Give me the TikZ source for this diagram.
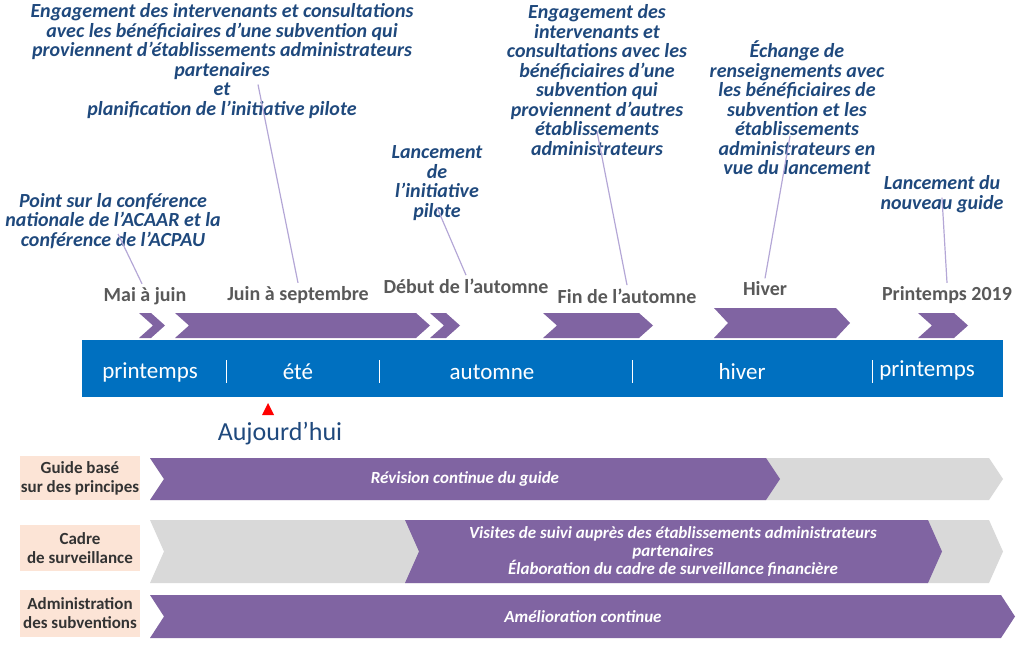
\documentclass[tikz,border=0pt]{standalone}
\usepackage{fontspec}
\setmainfont{Carlito}
\usetikzlibrary{positioning}
\definecolor{bandblue}{HTML}{0070C0}
\definecolor{lilac}{HTML}{8064A2}
\definecolor{pale}{HTML}{D9D9D9}
\definecolor{peach}{HTML}{FCE4D6}
\definecolor{navy}{HTML}{1F497D}
\definecolor{greytxt}{HTML}{595959}
\definecolor{leader}{HTML}{B4A7D6}
% chevron: colour, x1, x2, y1, y2
\newcommand\chevron[5]{%
  \fill[#1] (#2,#4) -- (#3-14,#4) -- (#3,{(#4+#5)/2}) -- (#3-14,#5) -- (#2,#5) -- (#2+14,{(#4+#5)/2}) -- cycle;}
\tikzset{
  callout/.style={align=center, text=navy, inner sep=1pt, font=\fontsize{20}{19.5}\selectfont\bfseries\itshape},
  period/.style={text=greytxt, font=\fontsize{20}{22}\selectfont\bfseries},
  season/.style={text=white, font=\fontsize{23}{26}\selectfont},
  rowlabel/.style={fill=peach, minimum width=120, minimum height=44, inner sep=1pt, align=center, font=\fontsize{17}{19}\selectfont\bfseries, text=black!80},
  rowtext/.style={text=white, align=center, font=\fontsize{17}{18}\selectfont\bfseries\itshape},
  lead/.style={leader, line width=1.2pt}
}
\begin{document}
\begin{tikzpicture}[x=1pt,y=-1pt]
\useasboundingbox (0,0) rectangle (1024,658);
% bande des saisons
\fill[bandblue] (82,340) rectangle (1003,397);
\foreach \x in {226,379,632,872}
  \draw[white, line width=0.8pt] (\x,360) -- (\x,383);
\node[season] (s1) at (150,372) {printemps};
\node[season] (s2) at (298,372) {été};
\node[season] (s3) at (492,372) {automne};
\node[season] (s4) at (742,372) {hiver};
\node[season] (s5) at (927,370) {printemps};
% chevrons des périodes
\chevron{lilac}{139}{165}{313}{338}
\chevron{lilac}{175}{430}{313}{338}
\chevron{lilac}{430}{460}{313}{338}
\chevron{lilac}{543}{653}{313}{338}
\chevron{lilac}{714}{850}{308}{338}
\chevron{lilac}{918}{968}{313}{338}
% périodes
\node[period] (p1) at (145,296) {Mai à juin};
\node[period] (p2) at (298,295) {Juin à septembre};
\node[period] (p3) at (466,286) {Début de l’automne};
\node[period] (p4) at (627,296) {Fin de l’automne};
\node[period] (p5) at (765,289) {Hiver};
\node[period] (p6) at (947,295) {Printemps 2019};
% textes des jalons
\node[callout] (c1) at (113,221) {Point sur la conférence\\nationale de l’ACAAR et la\\conférence de l’ACPAU};
\node[callout] (c2) at (222,61) {Engagement des intervenants et consultations\\avec les bénéficiaires d’une subvention qui\\proviennent d’établissements administrateurs\\partenaires\\et\\planification de l’initiative pilote};
\node[callout] (c3) at (437,183) {Lancement\\de\\l’initiative\\pilote};
\node[callout] (c4) at (597,80) {Engagement des\\intervenants et\\consultations avec les\\bénéficiaires d’une\\subvention qui\\proviennent d’autres\\établissements\\administrateurs};
\node[callout] (c5) at (797,108) {Échange de\\renseignements avec\\les bénéficiaires de\\subvention et les\\établissements\\administrateurs en\\vue du lancement};
\node[callout] (c6) at (942,194) {Lancement du\\nouveau guide};
% traits de rappel
\draw[lead] ([xshift=5,yshift=16]c1.south) -- ([xshift=-3]p1.north);
\draw[lead] ([xshift=36,yshift=35]c2.south) -- (p2.north);
\draw[lead] ([yshift=14]c3.south) -- (p3.north);
\draw[lead] ([yshift=25]c4.south) -- (p4.north);
\draw[lead] ([xshift=-7,yshift=40]c5.south) -- (p5.north);
\draw[lead] ([yshift=16]c6.south) -- (p6.north);
% aujourd'hui
\fill[red] (262,415) -- (274,415) -- (268,403) -- cycle;
\node[text=navy, font=\fontsize{26}{28}\selectfont] (today) at (280,434) {Aujourd’hui};
% lignes d'activités
\node[rowlabel] (r1) at (80,478) {Guide basé\\sur des principes};
\node[rowlabel, minimum height=46] (r2) at (80,548) {Cadre\\de surveillance};
\node[rowlabel, minimum height=47] (r3) at (80,613) {Administration\\des subventions};
\chevron{pale}{150}{1003}{458}{500}
\chevron{lilac}{150}{780}{458}{500}
\chevron{pale}{150}{1003}{520}{583}
\chevron{lilac}{405}{942}{520}{583}
\chevron{lilac}{150}{1015}{595}{638}
\node[rowtext] (t1) at (465,479) {Révision continue du guide};
\node[rowtext] (t2) at (673,552) {Visites de suivi auprès des établissements administrateurs\\partenaires\\Élaboration du cadre de surveillance financière};
\node[rowtext] (t3) at (583,617) {Amélioration continue};
\end{tikzpicture}
\end{document}
